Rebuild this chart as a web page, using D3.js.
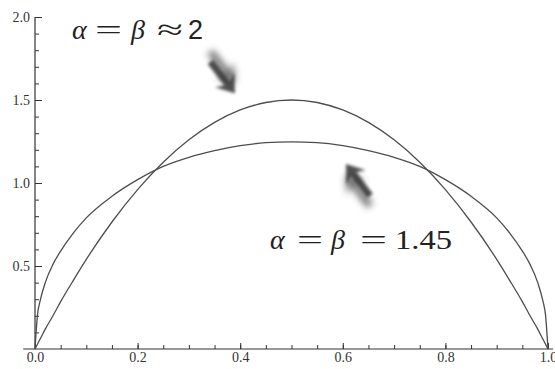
<!DOCTYPE html>
<html>
<head>
<meta charset="utf-8">
<script src="https://d3js.org/d3.v7.min.js"></script>
<style>
  body { margin: 0; background: #fff; }
  svg { display: block; }
</style>
</head>
<body>
<div id="chart"></div>
<script>

// values
var xs = [0, 0.005, 0.01, 0.02, 0.035, 0.05, 0.075, 0.1, 0.15, 0.2, 0.25, 0.3, 0.35, 0.4, 0.45, 0.5,
          0.55, 0.6, 0.65, 0.7, 0.75, 0.8, 0.85, 0.9, 0.925, 0.95, 0.965, 0.98, 0.99, 0.995, 1];
var beta2 = [0, 0.03, 0.06, 0.12, 0.2, 0.285, 0.415, 0.54, 0.765, 0.96, 1.125, 1.26, 1.365, 1.44, 1.485, 1.5,
             1.485, 1.44, 1.365, 1.26, 1.125, 0.96, 0.765, 0.54, 0.415, 0.285, 0.2, 0.12, 0.06, 0.03, 0];
var beta145 = [0, 0.21, 0.29, 0.4, 0.51, 0.59, 0.7, 0.79, 0.92, 1.02, 1.1, 1.155, 1.195, 1.225, 1.243, 1.248,
               1.243, 1.225, 1.195, 1.155, 1.1, 1.02, 0.92, 0.79, 0.7, 0.59, 0.51, 0.4, 0.29, 0.21, 0];

var xMajor = [0, 0.2, 0.4, 0.6, 0.8, 1.0];
var yMajor = [0.5, 1.0, 1.5, 2.0];

// annotation anchors in data units; each piece: text, offset (px), stretched width, italic
var labels = [
  {x: 0.072, y: 1.867, pieces: [
    {t: "α", dx: 0, italic: true},
    {t: "=", dx: 23, w: 27},
    {t: "β", dx: 59, italic: true},
    {t: "≈", dx: 85, w: 26},
    {t: "2", dx: 116, sans: true}
  ]},
  {x: 0.458, y: 0.6, pieces: [
    {t: "α", dx: 0, italic: true},
    {t: "=", dx: 27, w: 26},
    {t: "β", dx: 61, italic: true},
    {t: "=", dx: 90, w: 27},
    {t: "1.45", dx: 125, w: 57}
  ]}
];
var arrows = [
  {x: 0.39, y: 1.54, angle: 52},
  {x: 0.606, y: 1.115, angle: 233}
];

var W = 555, H = 369;
var x = d3.scaleLinear().domain([0, 1]).range([35, 548]);
var y = d3.scaleLinear().domain([0, 2]).range([349, 17]);

var svg = d3.select("#chart").append("svg")
  .attr("width", W)
  .attr("height", H);

var defs = svg.append("defs");
defs.append("filter").attr("id", "blur1").attr("x", "-50%").attr("y", "-50%").attr("width", "200%").attr("height", "200%")
  .append("feGaussianBlur").attr("stdDeviation", 1.6);
defs.append("filter").attr("id", "blur2").attr("x", "-50%").attr("y", "-50%").attr("width", "200%").attr("height", "200%")
  .append("feGaussianBlur").attr("stdDeviation", 3.5);

var axisColor = "#333";
var serif = "Liberation Serif";

// minor ticks
svg.append("g")
  .attr("transform", "translate(0," + y(0) + ")")
  .call(d3.axisBottom(x).tickValues(d3.range(0, 1.001, 0.05)).tickSize(-4).tickFormat(""))
  .call(function(g) { g.select(".domain").remove(); g.selectAll("line").attr("stroke", axisColor); });
svg.append("g")
  .attr("transform", "translate(" + x(0) + ",0)")
  .call(d3.axisLeft(y).tickValues(d3.range(0.1, 2.001, 0.1)).tickSize(-4).tickFormat(""))
  .call(function(g) { g.select(".domain").remove(); g.selectAll("line").attr("stroke", axisColor); });

// major ticks and labels (axis() sets its own font attrs, so override afterwards)
function styleMajor(g) {
  g.select(".domain").remove();
  g.attr("font-family", serif).attr("font-size", 14);
  g.selectAll("line").attr("stroke", axisColor);
  g.selectAll("text").attr("fill", axisColor);
}
svg.append("g")
  .attr("transform", "translate(0," + y(0) + ")")
  .call(d3.axisBottom(x).tickValues(xMajor).tickSize(-6).tickPadding(3).tickFormat(d3.format(".1f")))
  .call(styleMajor);
svg.append("g")
  .attr("transform", "translate(" + x(0) + ",0)")
  .call(d3.axisLeft(y).tickValues(yMajor).tickSize(-7).tickPadding(5).tickFormat(d3.format(".1f")))
  .call(styleMajor);

// axis lines
svg.append("line")
  .attr("x1", x(-0.023)).attr("x2", x(1.01))
  .attr("y1", y(0)).attr("y2", y(0))
  .attr("stroke", axisColor).attr("stroke-width", 1.2);
svg.append("line")
  .attr("x1", x(0)).attr("x2", x(0))
  .attr("y1", y(0)).attr("y2", y(2))
  .attr("stroke", axisColor).attr("stroke-width", 1.2);

// curves
var line = d3.line()
  .x(function(d) { return x(d[0]); })
  .y(function(d) { return y(d[1]); })
  .curve(d3.curveMonotoneX);

[beta2, beta145].forEach(function(vals) {
  svg.append("path")
    .datum(d3.zip(xs, vals))
    .attr("d", line)
    .attr("fill", "none")
    .attr("stroke", "#4d4d4d")
    .attr("stroke-width", 1.3);
});

// blurred arrows
var arrowShape = "M0,0 L-17,-12 L-13,-3.5 L-40,-3.5 L-40,3.5 L-13,3.5 L-17,12 Z";
arrows.forEach(function(a) {
  var g = svg.append("g")
    .attr("transform", "translate(" + x(a.x) + "," + y(a.y) + ") rotate(" + a.angle + ")");
  g.append("path").attr("d", arrowShape)
    .attr("transform", "translate(-8,-6)")
    .attr("fill", "#444").attr("opacity", 0.8)
    .attr("filter", "url(#blur2)");
  g.append("path").attr("d", arrowShape)
    .attr("fill", "#333").attr("opacity", 0.85)
    .attr("filter", "url(#blur1)");
});

// formula labels
labels.forEach(function(l) {
  var g = svg.append("g")
    .attr("transform", "translate(" + x(l.x) + "," + y(l.y) + ")")
    .attr("font-family", serif)
    .attr("font-size", 28)
    .attr("fill", "#222");
  l.pieces.forEach(function(p) {
    var t = g.append("text")
      .attr("x", p.dx)
      .attr("font-style", p.italic ? "italic" : "normal")
      .text(p.t);
    if (p.sans) t.attr("font-family", "Liberation Sans").attr("font-size", 27);
    if (p.w) t.attr("textLength", p.w).attr("lengthAdjust", "spacingAndGlyphs");
  });
});

</script>
</body>
</html>
